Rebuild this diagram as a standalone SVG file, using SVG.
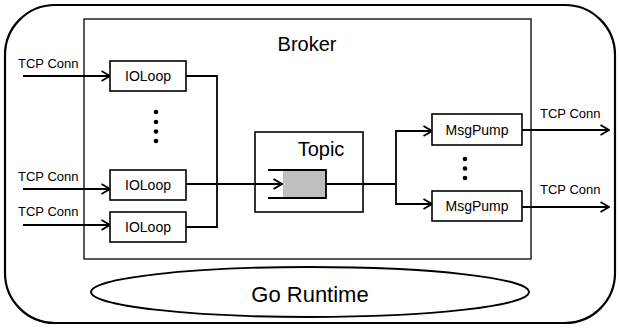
<svg xmlns="http://www.w3.org/2000/svg" width="619" height="328" viewBox="0 0 619 328">
<style>
.box{fill:#fff;stroke:#000;stroke-width:1.6}
.ln{fill:none;stroke:#000;stroke-width:1.8}
.arr{fill:none;stroke:#000;stroke-width:1.8;marker-end:url(#chev)}
text{font-family:"Liberation Sans",Arial,sans-serif;fill:#000}
.sm{font-size:13px}
.md{font-size:14px;text-anchor:middle}
.lg{font-size:20px;text-anchor:middle}
.dot{fill:#000}
</style>
<defs>
<marker id="chev" viewBox="0 0 10 12" markerWidth="10" markerHeight="12" refX="9.5" refY="6" orient="auto" markerUnits="userSpaceOnUse">
<path d="M1,1 L9.5,6 L1,11" fill="none" stroke="#000" stroke-width="1.8"/>
</marker>
</defs>
<g id="runtime-frame">
<rect x="5" y="5" width="610" height="318" rx="50" ry="50" fill="#fff" stroke="#000" stroke-width="2.2"/>
</g>
<g id="broker">
<rect x="84" y="19" width="447" height="240" fill="#fff" stroke="#000" stroke-width="1.3"/>
<text x="307" y="51" class="lg">Broker</text>
</g>
<g id="go-runtime">
<ellipse cx="310" cy="292" rx="219" ry="25" fill="#fff" stroke="#000" stroke-width="1.8"/>
<text x="310" y="302" font-size="22" text-anchor="middle">Go Runtime</text>
</g>
<g id="topic">
<rect x="255" y="132" width="108" height="80" class="box"/>
<text x="321" y="156" class="lg">Topic</text>
<rect x="283" y="170" width="43" height="28" fill="#bfbfbf"/>
<path d="M268,170 H326 V198 H268" class="ln"/>
</g>
<g id="connectors">
<path d="M23,76 H110" class="arr"/>
<path d="M23,189 H110" class="arr"/>
<path d="M23,225 H110" class="arr"/>
<path d="M186,76 H217 V227 H186" class="ln"/>
<path d="M186,184 H282" class="arr"/>
<path d="M326,184 H396" class="ln"/>
<path d="M396,184 V131 H432" class="arr"/>
<path d="M396,184 V204 H432" class="arr"/>
<path d="M522,130 H609" class="arr"/>
<path d="M522,207 H609" class="arr"/>
</g>
<g id="labels">
<text x="18" y="68" class="sm">TCP Conn</text>
<text x="18" y="181" class="sm">TCP Conn</text>
<text x="18" y="216" class="sm">TCP Conn</text>
<text x="540" y="118" class="sm">TCP Conn</text>
<text x="540" y="194" class="sm">TCP Conn</text>
</g>
<g id="ioloop1">
<rect x="110" y="61" width="76" height="30" class="box"/>
<text x="148" y="81" class="md">IOLoop</text>
</g>
<g id="ioloop-dots">
<circle cx="156" cy="112" r="2.3" class="dot"/>
<circle cx="156" cy="122" r="2.3" class="dot"/>
<circle cx="156" cy="131.5" r="2.3" class="dot"/>
<circle cx="156" cy="141" r="2.3" class="dot"/>
</g>
<g id="ioloop2">
<rect x="110" y="170" width="76" height="30" class="box"/>
<text x="148" y="190" class="md">IOLoop</text>
</g>
<g id="ioloop3">
<rect x="110" y="212" width="76" height="30" class="box"/>
<text x="148" y="232" class="md">IOLoop</text>
</g>
<g id="msgpump1">
<rect x="432" y="114" width="90" height="31" class="box"/>
<text x="477" y="135" class="md">MsgPump</text>
</g>
<g id="msgpump-dots">
<circle cx="465" cy="159" r="2.3" class="dot"/>
<circle cx="465" cy="168.5" r="2.3" class="dot"/>
<circle cx="465" cy="178" r="2.3" class="dot"/>
</g>
<g id="msgpump2">
<rect x="432" y="191" width="90" height="30" class="box"/>
<text x="477" y="211" class="md">MsgPump</text>
</g>
</svg>
